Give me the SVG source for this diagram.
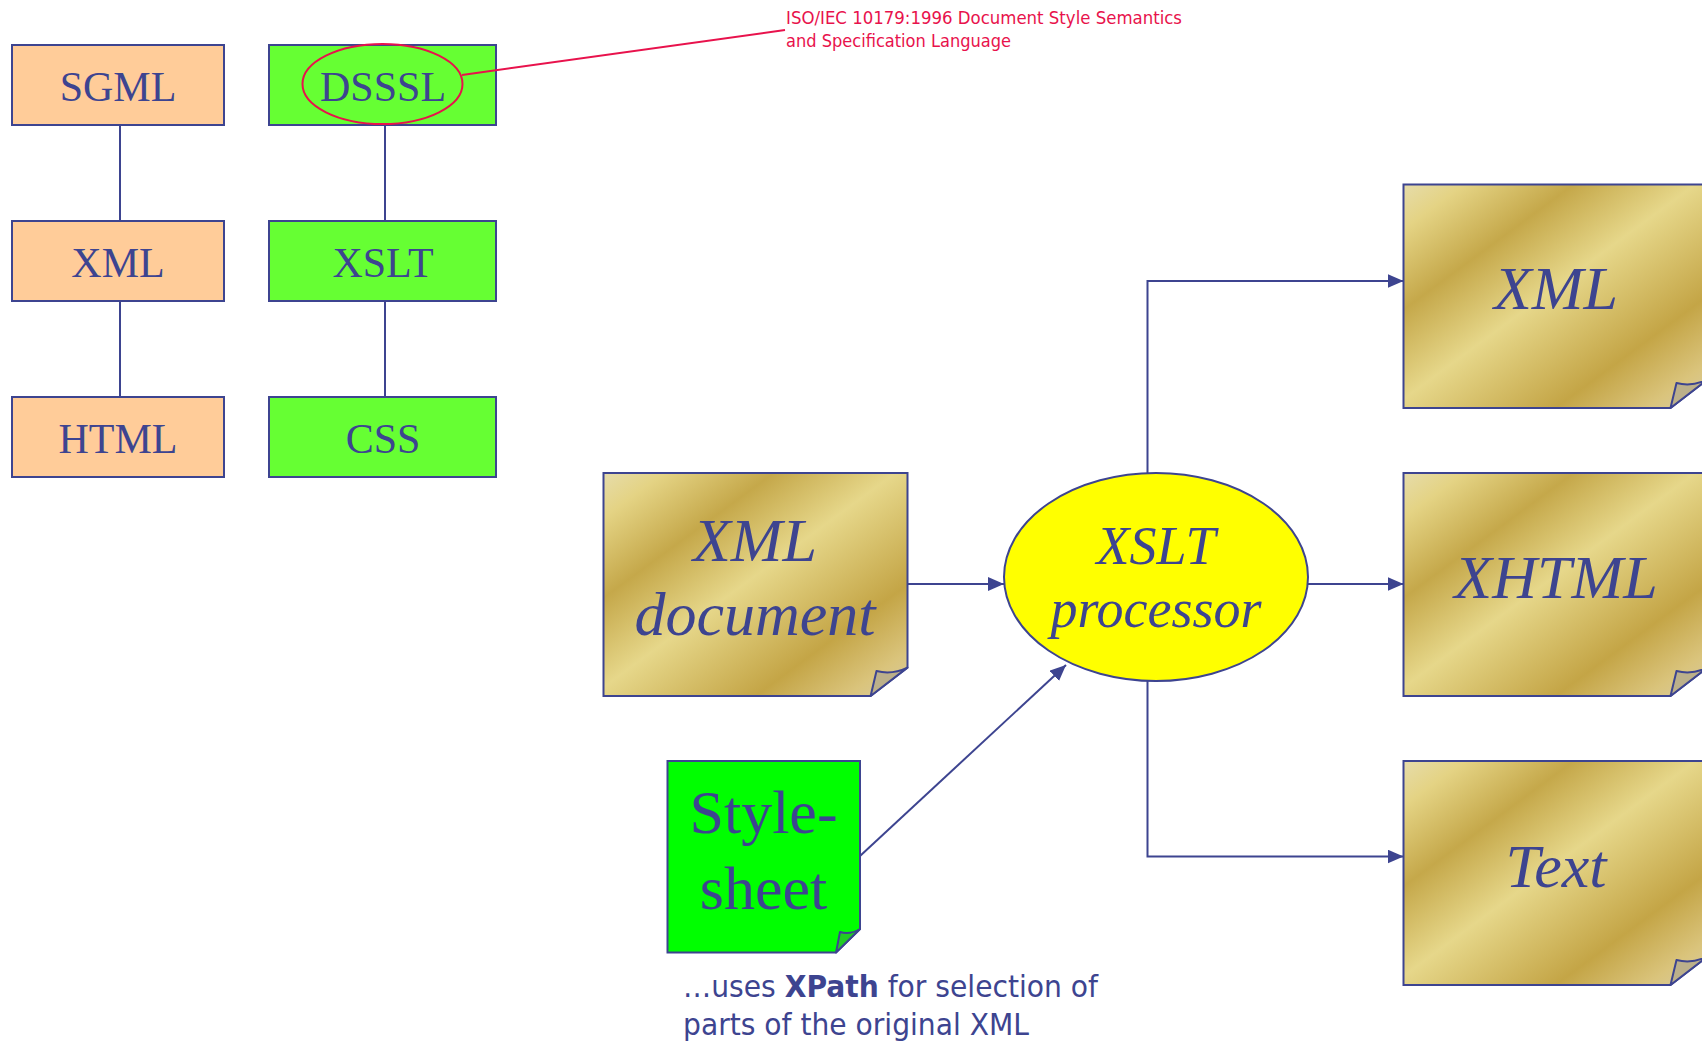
<svg xmlns="http://www.w3.org/2000/svg" width="1702" height="1042" viewBox="0 0 1702 1042">
  <style>
    .box { stroke: #3d4490; stroke-width: 2; }
    .orange { fill: #ffcc99; }
    .lime { fill: #66ff33; }
    .lbl { font-family: "Liberation Serif", "Times New Roman", serif; fill: #3d4490; text-anchor: middle; }
    .small { font-size: 42px; }
    .big { font-size: 62px; font-style: italic; }
    .link { stroke: #3d4490; stroke-width: 2; fill: none; }
    .flow { stroke: #3d4490; stroke-width: 2; fill: none; marker-end: url(#arrow); }
    .note { font-family: "DejaVu Sans Condensed", "DejaVu Sans", sans-serif; fill: #e8124c; font-size: 17px; }
    .caption { font-family: "DejaVu Sans Condensed", "DejaVu Sans", sans-serif; fill: #3d4490; font-size: 31px; }
    .flap { fill: #bcb08a; stroke: #3d4490; stroke-width: 2; stroke-linejoin: round; }
  </style>
  <defs>
    <marker id="arrow" viewBox="0 0 16 14" refX="16" refY="7" markerWidth="16" markerHeight="14" markerUnits="userSpaceOnUse" orient="auto">
      <path d="M0,0 L16,7 L0,14 z" fill="#3d4490"/>
    </marker>
    <!-- brushed gold paper fill -->
    <linearGradient id="gold" x1="0" y1="0" x2="1" y2="1">
      <stop offset="0" stop-color="#e6dcaa"/>
      <stop offset="0.1" stop-color="#e4d384"/>
      <stop offset="0.28" stop-color="#c5a84a"/>
      <stop offset="0.48" stop-color="#e6d78a"/>
      <stop offset="0.75" stop-color="#c4a546"/>
      <stop offset="0.9" stop-color="#dac47c"/>
      <stop offset="1" stop-color="#d8cba2"/>
    </linearGradient>
  </defs>

  <!-- family tree links and processing flow -->
  <g id="connectors">
    <line class="link" x1="120" y1="125" x2="120" y2="221"/>
    <line class="link" x1="120" y1="301" x2="120" y2="397"/>
    <line class="link" x1="385" y1="125" x2="385" y2="221"/>
    <line class="link" x1="385" y1="301" x2="385" y2="397"/>
    <line class="flow" x1="908" y1="584" x2="1004" y2="584"/>
    <line class="flow" x1="860" y1="856" x2="1066" y2="665"/>
    <polyline class="flow" points="1147.5,473 1147.5,281 1403.5,281"/>
    <line class="flow" x1="1308" y1="584" x2="1403.5" y2="584"/>
    <polyline class="flow" points="1147.5,680 1147.5,856.5 1403.5,856.5"/>
  </g>

  <g id="sgml">
    <rect class="box orange" x="12" y="45" width="212" height="80"/>
    <text class="lbl small" x="118" y="101">SGML</text>
  </g>
  <g id="xml-left">
    <rect class="box orange" x="12" y="221" width="212" height="80"/>
    <text class="lbl small" x="118" y="277">XML</text>
  </g>
  <g id="html">
    <rect class="box orange" x="12" y="397" width="212" height="80"/>
    <text class="lbl small" x="118" y="453">HTML</text>
  </g>
  <g id="dsssl">
    <rect class="box lime" x="269" y="45" width="227" height="80"/>
    <text class="lbl small" x="383" y="101">DSSSL</text>
    <ellipse cx="382.5" cy="84" rx="80" ry="40" fill="none" stroke="#e8124c" stroke-width="2"/>
  </g>
  <g id="dsssl-note">
    <line x1="462" y1="75" x2="785" y2="30" stroke="#e8124c" stroke-width="2"/>
    <text class="note" x="786" y="24" textLength="396" lengthAdjust="spacingAndGlyphs">ISO/IEC 10179:1996 Document Style Semantics</text>
    <text class="note" x="786" y="47" textLength="225" lengthAdjust="spacingAndGlyphs">and Specification Language</text>
  </g>
  <g id="xslt-left">
    <rect class="box lime" x="269" y="221" width="227" height="80"/>
    <text class="lbl small" x="383" y="277">XSLT</text>
  </g>
  <g id="css">
    <rect class="box lime" x="269" y="397" width="227" height="80"/>
    <text class="lbl small" x="383" y="453">CSS</text>
  </g>

  <g id="xml-document">
    <path class="box" fill="url(#gold)" d="M603.5,473 H907.5 V667.6 L870.6,696 H603.5 Z"/>
    <path class="flap" d="M870.6,696 L876.5,671 Q892,675 907.5,667.6 Z"/>
    <text class="lbl big" x="755" y="561">XML</text>
    <text class="lbl big" x="755" y="635">document</text>
  </g>

  <g id="xslt-processor">
    <ellipse cx="1156" cy="577" rx="152" ry="104" fill="#ffff00" stroke="#3d4490" stroke-width="2"/>
    <text class="lbl" x="1156" y="564" font-size="54" font-style="italic">XSLT</text>
    <text class="lbl" x="1156" y="627" font-size="54" font-style="italic">processor</text>
  </g>

  <g id="stylesheet">
    <path class="box" fill="#00ff00" d="M667.5,761 H860 V929 L836,952.5 H667.5 Z"/>
    <path class="flap" style="fill:#22cc22" d="M836,952.5 L840,932 Q850,935 860,929 Z"/>
    <text class="lbl" x="763.5" y="833" font-size="62">Style-</text>
    <text class="lbl" x="763.5" y="909" font-size="62">sheet</text>
  </g>
  <g id="xpath-caption">
    <text class="caption" x="683" y="997" textLength="415" lengthAdjust="spacingAndGlyphs">…uses <tspan font-weight="bold">XPath</tspan> for selection of</text>
    <text class="caption" x="683" y="1035" textLength="346" lengthAdjust="spacingAndGlyphs">parts of the original XML</text>
  </g>

  <g id="out-xml">
    <path class="box" fill="url(#gold)" d="M1403.5,184.5 H1707.5 V379.5 L1670.5,408 H1403.5 Z"/>
    <path class="flap" d="M1670.5,408 L1676.5,383 Q1692,387 1707.5,379.5 Z"/>
    <text class="lbl big" x="1556" y="309">XML</text>
  </g>
  <g id="out-xhtml">
    <path class="box" fill="url(#gold)" d="M1403.5,473 H1707.5 V667.6 L1670.5,696 H1403.5 Z"/>
    <path class="flap" d="M1670.5,696 L1676.5,671 Q1692,675 1707.5,667.6 Z"/>
    <text class="lbl big" x="1556" y="598">XHTML</text>
  </g>
  <g id="out-text">
    <path class="box" fill="url(#gold)" d="M1403.5,761 H1707.5 V956.5 L1670.5,985 H1403.5 Z"/>
    <path class="flap" d="M1670.5,985 L1676.5,960 Q1692,964 1707.5,956.5 Z"/>
    <text class="lbl big" x="1556" y="887">Text</text>
  </g>
</svg>
